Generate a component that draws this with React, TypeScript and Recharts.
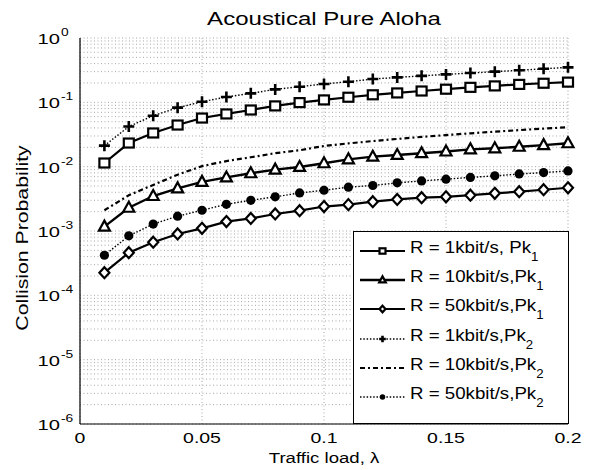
import React from 'react';
import {
  LineChart,
  Line,
  XAxis,
  YAxis,
  CartesianGrid,
} from 'recharts';

const TRAFFIC_LOAD = [
  0.01, 0.02, 0.03, 0.04, 0.05, 0.06, 0.07, 0.08, 0.09, 0.1,
  0.11, 0.12, 0.13, 0.14, 0.15, 0.16, 0.17, 0.18, 0.19, 0.2,
];

// Pk1 curves
const R1K_PK1 = [0.0114, 0.0233, 0.0334, 0.0444, 0.057, 0.066, 0.076, 0.088, 0.099, 0.109, 0.12, 0.131, 0.14, 0.15, 0.16, 0.171, 0.18, 0.19, 0.198, 0.206];
const R10K_PK1 = [0.00117, 0.0023, 0.0035, 0.0046, 0.0058, 0.0068, 0.0079, 0.009, 0.0099, 0.0113, 0.013, 0.0143, 0.0152, 0.0162, 0.0172, 0.0186, 0.0193, 0.0204, 0.0216, 0.0231];
const R50K_PK1 = [0.000225, 0.00046, 0.00067, 0.0009, 0.0011, 0.0014, 0.00157, 0.00184, 0.00207, 0.0024, 0.00257, 0.00286, 0.0031, 0.0033, 0.0034, 0.0036, 0.00385, 0.00408, 0.00438, 0.0047];

// Pk2 curves
const R1K_PK2 = [0.0212, 0.042, 0.062, 0.0826, 0.102, 0.121, 0.138, 0.159, 0.175, 0.193, 0.209, 0.23, 0.244, 0.258, 0.272, 0.285, 0.3, 0.315, 0.332, 0.35];
const R10K_PK2 = [0.0021, 0.0036, 0.0052, 0.0075, 0.0102, 0.0122, 0.014, 0.0162, 0.018, 0.021, 0.023, 0.025, 0.027, 0.029, 0.031, 0.033, 0.035, 0.037, 0.039, 0.041];
const R50K_PK2 = [0.00042, 0.00084, 0.00128, 0.0017, 0.0021, 0.0026, 0.003, 0.0034, 0.0039, 0.0043, 0.0048, 0.0051, 0.0056, 0.006, 0.0064, 0.0068, 0.0072, 0.0077, 0.0081, 0.0086];

const X_TICKS = [0, 0.05, 0.1, 0.15, 0.2];
const X_TICK_LABELS = ['0', '0.05', '0.1', '0.15', '0.2'];
const Y_EXPONENTS = [-6, -5, -4, -3, -2, -1, 0];
const Y_MINOR_FACTORS = [2, 3, 4, 5, 6, 7, 8, 9];

const SERIES_LABELS = [
  { rate: '1kbit/s, Pk', sub: '1' },
  { rate: '10kbit/s,Pk', sub: '1' },
  { rate: '50kbit/s,Pk', sub: '1' },
  { rate: '1kbit/s,Pk', sub: '2' },
  { rate: '10kbit/s,Pk', sub: '2' },
  { rate: '50kbit/s,Pk', sub: '2' },
];

const data = TRAFFIC_LOAD.map((x, i) => ({
  x,
  s1: R1K_PK1[i],
  s2: R10K_PK1[i],
  s3: R50K_PK1[i],
  s4: R1K_PK2[i],
  s5: R10K_PK2[i],
  s6: R50K_PK2[i],
}));

const yTicks: number[] = [];
Y_EXPONENTS.forEach((e) => {
  yTicks.push(Math.pow(10, e));
  if (e < 0) Y_MINOR_FACTORS.forEach((f) => yTicks.push(f * Math.pow(10, e)));
});

const FONT = 'Liberation Sans, Arial, sans-serif';

type Shape = 'square' | 'triangle' | 'diamond' | 'plus' | 'circle' | 'none';

function Marker({ shape, cx, cy, scale = 1 }: { shape: Shape; cx: number; cy: number; scale?: number }) {
  const s = scale;
  switch (shape) {
    case 'square':
      return <rect x={cx - 5 * s} y={cy - 4.5 * s} width={10 * s} height={9 * s} fill="#fff" stroke="#000" strokeWidth={2.2} />;
    case 'triangle':
      return (
        <path
          d={`M${cx},${cy - 6 * s} L${cx + 5.5 * s},${cy + 4 * s} L${cx - 5.5 * s},${cy + 4 * s} Z`}
          fill="#fff"
          stroke="#000"
          strokeWidth={2.2}
        />
      );
    case 'diamond':
      return (
        <path
          d={`M${cx},${cy - 5.5 * s} L${cx + 5 * s},${cy} L${cx},${cy + 5.5 * s} L${cx - 5 * s},${cy} Z`}
          fill="#fff"
          stroke="#000"
          strokeWidth={2.2}
        />
      );
    case 'plus':
      return (
        <path
          d={`M${cx - 5.5 * s},${cy} H${cx + 5.5 * s} M${cx},${cy - 5.5 * s} V${cy + 5.5 * s}`}
          stroke="#000"
          strokeWidth={2.6}
        />
      );
    case 'circle':
      return <circle cx={cx} cy={cy} r={4.6 * s} fill="#000" />;
    default:
      return null;
  }
}

const makeDot = (shape: Shape, id: string) => (p: any) => (
  <g key={`${id}-${p.index}`}>
    {p.cx != null && p.cy != null ? <Marker shape={shape} cx={p.cx} cy={p.cy} /> : null}
  </g>
);

const SERIES = [
  { key: 's1', shape: 'square' as Shape, width: 2.2, dash: undefined as string | undefined },
  { key: 's2', shape: 'triangle' as Shape, width: 2.4, dash: undefined },
  { key: 's3', shape: 'diamond' as Shape, width: 2.2, dash: undefined },
  { key: 's4', shape: 'plus' as Shape, width: 1.4, dash: '1.5 1.8' },
  { key: 's5', shape: 'none' as Shape, width: 2.2, dash: '5 3 2 3' },
  { key: 's6', shape: 'circle' as Shape, width: 1.4, dash: '1.5 1.8' },
];

function SText({ x, y, size, sx = 1, anchor = 'start', children }: any) {
  return (
    <text
      transform={`translate(${x},${y}) scale(${sx},1)`}
      fontSize={size}
      fontFamily={FONT}
      textAnchor={anchor}
      fill="#000"
    >
      {children}
    </text>
  );
}

function YTick({ x, y, payload }: any) {
  const v = payload.value;
  const e = Math.round(Math.log10(v));
  if (Math.abs(v - Math.pow(10, e)) > v * 1e-6) return <g />;
  return (
    <g>
      <SText x={x - 14} y={y + 6} size={15.5} sx={1.3} anchor="end">10</SText>
      <SText x={x - 13} y={y - 2} size={11.5} sx={1.2}>{String(e)}</SText>
    </g>
  );
}

function XTick({ x, y, payload }: any) {
  const idx = X_TICKS.indexOf(payload.value);
  return (
    <SText x={x} y={y + 11} size={15} sx={1.3} anchor="middle">
      {X_TICK_LABELS[idx]}
    </SText>
  );
}

function LegendBox() {
  const rows = [20, 49, 78, 108, 137, 166];
  return (
    <svg width={216} height={193} style={{ display: 'block' }}>
      <rect x={0.5} y={0.5} width={215} height={192} fill="#fff" stroke="#000" strokeWidth={1} />
      {SERIES.map((s, i) => (
        <g key={s.key}>
          <line
            x1={7}
            x2={52}
            y1={rows[i]}
            y2={rows[i]}
            stroke="#000"
            strokeWidth={s.width}
            strokeDasharray={s.dash}
          />
          <Marker shape={s.shape} cx={29.5} cy={rows[i]} scale={0.6} />
          <text
            transform={`translate(57,${rows[i] + 2}) scale(1.1,1)`}
            fontSize={17}
            fontFamily={FONT}
            fill="#000"
          >
            R = {SERIES_LABELS[i].rate}
            <tspan dy={8} fontSize={12}>{SERIES_LABELS[i].sub}</tspan>
          </text>
        </g>
      ))}
    </svg>
  );
}

export default function App() {
  return (
    <div style={{ position: 'absolute', left: 0, top: 0, width: 592, height: 470, background: '#fff' }}>
      <LineChart
        width={592}
        height={470}
        data={data}
        margin={{ top: 38, right: 24, bottom: 0, left: 0 }}
      >
        <CartesianGrid stroke="#a8a8a8" strokeDasharray="1 2.5" strokeWidth={1} />
        <XAxis
          dataKey="x"
          type="number"
          domain={[0, 0.2]}
          ticks={X_TICKS}
          height={46}
          axisLine={{ stroke: '#000', strokeWidth: 1.2 }}
          tickLine={false}
          tick={<XTick />}
          interval={0}
        />
        <XAxis
          xAxisId="top"
          orientation="top"
          dataKey="x"
          type="number"
          domain={[0, 0.2]}
          height={0}
          axisLine={{ stroke: '#000', strokeWidth: 1 }}
          tick={false}
          tickLine={false}
        />
        <YAxis
          scale="log"
          domain={[1e-6, 1]}
          allowDataOverflow
          ticks={yTicks}
          width={80}
          interval={0}
          axisLine={{ stroke: '#000', strokeWidth: 1.2 }}
          tickLine={false}
          tickMargin={0}
          tick={<YTick />}
        />
        <YAxis
          yAxisId="right"
          orientation="right"
          scale="log"
          domain={[1e-6, 1]}
          width={0}
          axisLine={{ stroke: '#000', strokeWidth: 1 }}
          tick={false}
          tickLine={false}
        />
        {SERIES.map((s) => (
          <Line
            key={s.key}
            dataKey={s.key}
            type="linear"
            stroke="#000"
            strokeWidth={s.width}
            strokeDasharray={s.dash}
            dot={s.shape === 'none' ? false : makeDot(s.shape, s.key)}
            activeDot={false}
            isAnimationActive={false}
          />
        ))}
      </LineChart>
      <div style={{ position: 'absolute', left: 353, top: 231 }}>
        <LegendBox />
      </div>
      <svg
        width={592}
        height={470}
        style={{ position: 'absolute', left: 0, top: 0, pointerEvents: 'none' }}
      >
        <SText x={324} y={25} size={18.5} sx={1.3} anchor="middle">Acoustical Pure Aloha</SText>
        <SText x={324} y={463} size={15} sx={1.24} anchor="middle">Traffic load, λ</SText>
        <g transform="translate(28,238) rotate(-90)">
          <SText x={0} y={0} size={17} sx={1.25} anchor="middle">Collision Probability</SText>
        </g>
      </svg>
    </div>
  );
}
